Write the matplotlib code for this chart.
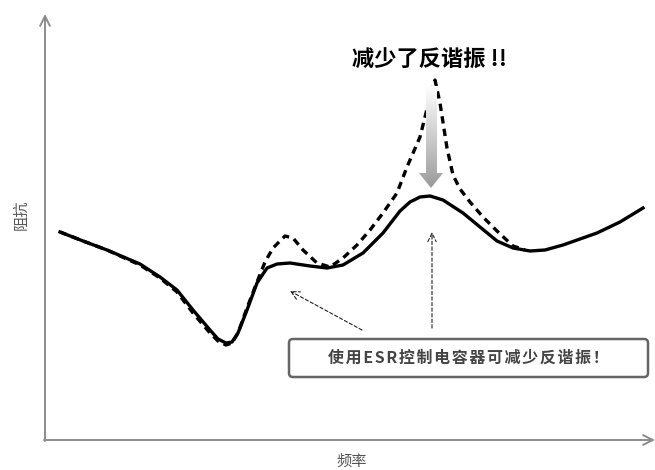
import matplotlib.pyplot as plt
import numpy as np
from matplotlib.patches import FancyBboxPatch, Polygon
from matplotlib.colors import LinearSegmentedColormap

plt.rcParams['font.family'] = ['Noto Sans CJK SC', 'DejaVu Sans']

# frequency / impedance (screen units, y grows downward)
freq_esr = [60, 83, 107, 140, 160, 177, 193, 210, 218, 226, 232, 238, 247, 257,
            267, 277, 290, 310, 327, 343, 363, 383, 400, 410, 420, 430, 443,
            463, 480, 497, 513, 530, 545, 563, 597, 620, 643]
imp_esr = [232, 241, 250, 264, 277, 290, 310, 330, 339, 343, 342, 333, 310, 283,
           268, 264, 263, 266, 268, 265, 253, 233, 211, 202, 197, 196, 200,
           213, 227, 241, 248, 251, 250, 245, 233, 222, 208]

freq_orig = [60, 83, 107, 140, 160, 177, 193, 210, 218, 226, 232, 238, 247, 257,
             265, 273, 285, 293, 303, 317, 330, 343, 357, 370, 383, 397, 407,
             420, 428, 435, 440, 447, 453, 460, 470, 483, 497, 513, 525]
imp_orig = [232, 241, 250, 265, 278, 292, 313, 333, 341, 345, 343, 333, 308, 282,
            262, 248, 236, 238, 250, 263, 267, 258, 245, 230, 213, 193, 167,
            137, 105, 80, 103, 148, 175, 189, 202, 217, 231, 246, 250]

title = '减少了反谐振 !!'
note = '使用ESR控制电容器可减少反谐振！'
xlabel = '频率'
ylabel = '阻抗'

fig = plt.figure(figsize=(6.55, 4.7), dpi=100)
ax = fig.add_axes([0, 0, 1, 1])

# axes with open arrow heads
axis_col = '#8c8c8c'
ax.annotate('', xy=(45, 14), xytext=(45, 441),
            arrowprops=dict(arrowstyle='->,head_length=0.7,head_width=0.35',
                            color=axis_col, lw=1.4, shrinkA=0, shrinkB=0))
ax.annotate('', xy=(655, 440), xytext=(44, 440),
            arrowprops=dict(arrowstyle='->,head_length=0.7,head_width=0.35',
                            color=axis_col, lw=1.4, shrinkA=0, shrinkB=0))

ax.text(21, 215, ylabel, rotation=90, ha='center', va='center',
        fontsize=11, color='#555555')
ax.text(352, 461, xlabel, ha='center', va='center', fontsize=11, color='#555555')

# curves
ax.plot(freq_orig, imp_orig, color='black', lw=2.4, ls=(0, (2.2, 1.6)),
        solid_capstyle='butt')
ax.plot(freq_esr, imp_esr, color='black', lw=2.4, solid_joinstyle='round')

# gradient arrow pointing at the reduced peak
arrow = Polygon([(426, 86), (437, 86), (437, 173), (443, 173), (431, 188),
                 (419, 173), (426, 173)], closed=True, facecolor='none',
                edgecolor='none')
ax.add_patch(arrow)
grad = np.linspace(0, 1, 256).reshape(-1, 1)
img = ax.imshow(grad, cmap=LinearSegmentedColormap.from_list(
    'g', ['#ffffff', '#9a9a9a']), extent=(418, 444, 188, 86),
    aspect='auto', zorder=3)
img.set_clip_path(arrow)

ax.text(430, 60, title, ha='center', va='center', fontsize=16,
        fontweight='bold', color='black')

# dashed pointers
ax.annotate('', xy=(290, 291), xytext=(362, 330),
            arrowprops=dict(arrowstyle='->,head_length=0.6,head_width=0.3',
                            color='#222222', lw=0.8, ls=(0, (3, 2)),
                            shrinkA=0, shrinkB=0))
ax.annotate('', xy=(432, 232), xytext=(432, 328),
            arrowprops=dict(arrowstyle='->,head_length=0.6,head_width=0.3',
                            color='#222222', lw=0.8, ls=(0, (3, 2)),
                            shrinkA=0, shrinkB=0))

box = FancyBboxPatch((289, 339), 359, 38,
                     boxstyle='round,pad=0,rounding_size=4',
                     facecolor='white', edgecolor='#666666', lw=1.8, zorder=4)
ax.add_patch(box)
spaced = '\u200a'.join(note)
ax.text(468, 358, spaced, ha='center', va='center', fontsize=11.5,
        fontweight='bold', color='#444444', zorder=5)

ax.set_xlim(0, 655)
ax.set_ylim(470, 0)
ax.axis('off')

fig.savefig('out.png', dpi=100)
